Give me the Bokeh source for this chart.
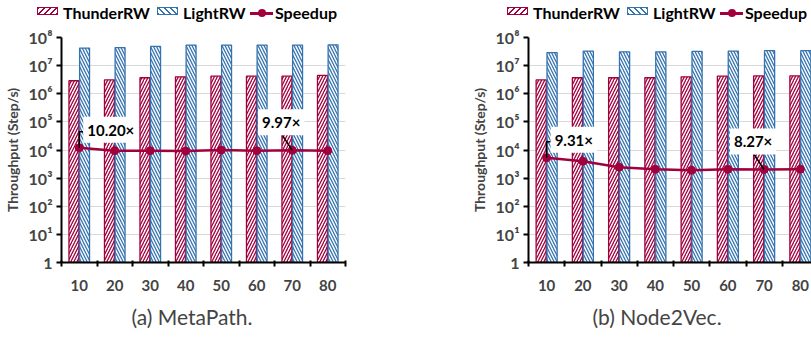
import numpy as np
from bokeh.plotting import figure
from bokeh.models import (Range1d, FixedTicker, Label, Title, LinearScale, Div)
from bokeh.layouts import row, column
from bokeh.embed import file_html
from bokeh.resources import INLINE

# ---------------- data ----------------
steps = ["10", "20", "30", "40", "50", "60", "70", "80"]
ytick_values = [1, 10, 100, 1000, 10000, 100000, 1000000, 10000000, 100000000]
ytick_labels = ["1", "10¹", "10²", "10³", "10⁴", "10⁵", "10⁶", "10⁷", "10⁸"]

mp_thunder = [2.9e6, 3.1e6, 3.7e6, 4.0e6, 4.2e6, 4.2e6, 4.2e6, 4.5e6]
mp_light = [4.2e7, 4.4e7, 4.8e7, 5.4e7, 5.4e7, 5.4e7, 5.4e7, 5.5e7]
mp_speedup = [10.20, 9.94, 9.94, 9.91, 10.00, 9.94, 9.97, 9.94]
mp_note_idx = [0, 6]
mp_note_text = ["10.20×", "9.97×"]

n2v_thunder = [3.1e6, 3.7e6, 3.7e6, 3.7e6, 4.0e6, 4.2e6, 4.3e6, 4.3e6]
n2v_light = [2.9e7, 3.3e7, 3.1e7, 3.1e7, 3.2e7, 3.3e7, 3.4e7, 3.4e7]
n2v_speedup = [9.31, 9.00, 8.47, 8.29, 8.20, 8.29, 8.27, 8.29]
n2v_note_idx = [0, 6]
n2v_note_text = ["9.31×", "8.27×"]

series_names = ["ThunderRW", "LightRW", "Speedup"]
speedup_max = 20

RED = "#A2003D"
BLUE = "#3473AF"
FONT = "Lato"
LEG_H = 26
TOTAL_H = 337


def bar_style(color, pattern):
    return dict(fill_color="white", line_color=color, line_width=1.3, hatch_pattern=pattern,
                hatch_color=color, hatch_scale=6, hatch_weight=1.3)


def swatch(left, color, angle):
    return (f'<div style="position:absolute;left:{left}px;top:7px;width:21px;height:8px;'
            f'border:1.5px solid {color};background:repeating-linear-gradient({angle}deg,'
            f'{color} 0px,{color} 1.4px,#ffffff 1.4px,#ffffff 4.2px);"></div>')


def label_span(left, text):
    return (f'<span style="position:absolute;left:{left}px;top:0px;line-height:{LEG_H}px;'
            f'white-space:nowrap;">{text}</span>')


def make_legend(width, start):
    parts = [swatch(start, RED, 135), label_span(start + 26, series_names[0]),
             swatch(start + 120, BLUE, 45), label_span(start + 146, series_names[1]),
             f'<div style="position:absolute;left:{start + 213}px;top:12px;width:23px;'
             f'height:2.5px;background:{RED};"></div>',
             f'<div style="position:absolute;left:{start + 220.5}px;top:9.2px;width:8px;'
             f'height:8px;border-radius:50%;background:{RED};"></div>',
             label_span(start + 238, series_names[2])]
    html = (f'<div style="position:relative;width:{width}px;height:{LEG_H}px;overflow:hidden;'
            f'font-family:{FONT};font-weight:bold;font-size:16px;color:#000;">'
            + "".join(parts) + '</div>')
    return Div(text=html, width=width, height=LEG_H, margin=0)


def make_panel(caption, cap_offset, thunder, light, speedup, note_idx, note_text,
               width, border_left, border_right, frame_w):
    n = len(steps)
    xs = np.arange(1, n + 1)
    cat_px = 290 / n  # pixel width of a category
    x_end = 0.5 + frame_w / cat_px
    p = figure(width=width, height=TOTAL_H - LEG_H, output_backend="svg", toolbar_location=None,
               x_range=Range1d(0.5, x_end), y_range=Range1d(1, 1e8), y_axis_type="log",
               min_border_left=border_left, min_border_right=border_right,
               min_border_top=37 - LEG_H, min_border_bottom=20)
    p.extra_y_ranges = {"sp": Range1d(0, speedup_max)}
    p.extra_y_scales = {"sp": LinearScale()}
    p.outline_line_color = None

    p.vbar(x=xs - 0.15, top=thunder, bottom=1, width=0.28, **bar_style(RED, "/"))
    p.vbar(x=xs + 0.15, top=light, bottom=1, width=0.28, **bar_style(BLUE, "\\"))

    p.line(xs, speedup, y_range_name="sp", line_color=RED, line_width=2.5)
    p.scatter(xs, speedup, y_range_name="sp", size=8, fill_color=RED, line_color=RED)

    # annotation leaders and labels
    py = 226 / speedup_max  # px per speedup unit
    for k, (i, t) in enumerate(zip(note_idx, note_text)):
        x0, y0 = xs[i], speedup[i]
        if k == 0:
            p.line([x0, x0, x0 + 4 / cat_px], [y0, y0 + 16 / py, y0 + 16 / py],
                   y_range_name="sp", line_color="black", line_width=1.5)
            lab = Label(x=x0, y=y0, y_range_name="sp", x_offset=4, y_offset=18, text=t,
                        text_align="left", text_baseline="middle")
        else:
            p.line([x0 - 10 / cat_px, x0], [y0 + 15 / py, y0],
                   y_range_name="sp", line_color="black", line_width=1.5)
            lab = Label(x=x0, y=y0, y_range_name="sp", x_offset=-11, y_offset=28, text=t,
                        text_align="center", text_baseline="middle")
        lab.text_font = FONT
        lab.text_font_style = "bold"
        lab.text_font_size = "15px"
        lab.text_color = "black"
        lab.background_fill_color = "white"
        lab.padding = 4
        p.add_layout(lab)

    # axes
    ya = p.yaxis[0]
    ya.ticker = FixedTicker(ticks=ytick_values, minor_ticks=[])
    ya.major_label_overrides = {v: s for v, s in zip(ytick_values, ytick_labels)}
    ya.axis_label = "Throughput (Step/s)"
    ya.axis_label_text_font = FONT
    ya.axis_label_text_font_style = "bold"
    ya.axis_label_text_font_size = "14px"
    ya.axis_label_standoff = 5
    ya.major_label_text_font = FONT
    ya.major_label_text_font_style = "bold"
    ya.major_label_text_font_size = "16px"
    ya.major_label_standoff = 4
    ya.major_tick_out = 5
    ya.major_tick_in = 0
    ya.major_tick_line_width = 2
    ya.axis_line_width = 2
    ya.axis_line_color = "black"

    xa = p.xaxis[0]
    xa.ticker = FixedTicker(ticks=[int(v) for v in xs],
                            minor_ticks=[float(v) for v in np.arange(0.5, n + 1, 1.0)])
    xa.major_label_overrides = {int(v): s for v, s in zip(xs, steps)}
    xa.major_tick_line_color = None
    xa.major_tick_out = 0
    xa.major_tick_in = 0
    xa.minor_tick_out = 4
    xa.minor_tick_in = 2
    xa.minor_tick_line_width = 2
    xa.minor_tick_line_color = "black"
    xa.major_label_standoff = 13
    xa.major_label_text_font = FONT
    xa.major_label_text_font_style = "bold"
    xa.major_label_text_font_size = "15px"
    xa.axis_line_width = 2
    xa.axis_line_color = "black"

    p.xgrid.visible = False
    p.ygrid.grid_line_color = "#D9D9D9"
    p.ygrid.grid_line_width = 1

    cap = Title(text=caption, align="left", offset=cap_offset, text_font=FONT,
                text_font_style="normal", text_font_size="21px", standoff=17)
    p.add_layout(cap, "below")
    return p


p1 = make_panel("(a) MetaPath.", 70, mp_thunder, mp_light, mp_speedup,
                mp_note_idx, mp_note_text, 410, 55, 65, 290)
p2 = make_panel("(b) Node2Vec.", 64, n2v_thunder, n2v_light, n2v_speedup,
                n2v_note_idx, n2v_note_text, 401, 118, 0, 283)
l1 = make_legend(410, 37)
l2 = make_legend(401, 97)

layout = row(column(l1, p1, spacing=0), column(l2, p2, spacing=0), spacing=0)
open("out.html", "w").write(file_html(layout, INLINE))
